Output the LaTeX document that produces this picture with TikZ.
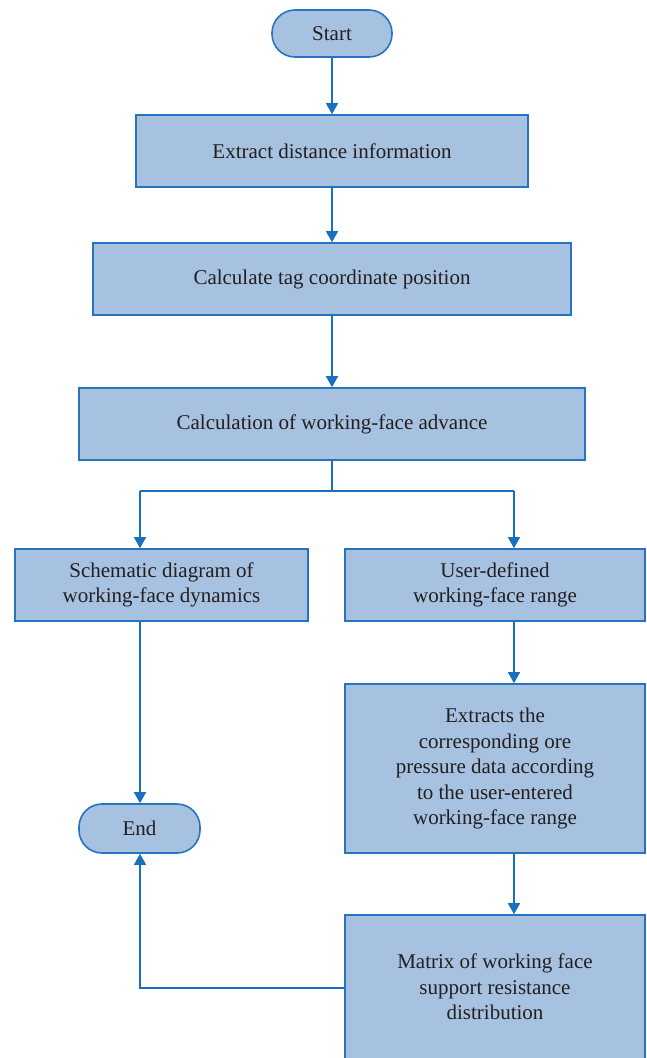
\documentclass[tikz,border=0pt]{standalone}
\usepackage{fontspec}
\setmainfont{Liberation Serif}
\usetikzlibrary{arrows.meta}
\definecolor{boxfill}{RGB}{167,193,224}
\definecolor{boxline}{RGB}{38,116,192}
\definecolor{flow}{RGB}{24,112,190}
\definecolor{txt}{RGB}{35,31,32}
\begin{document}
\begin{tikzpicture}[x=1pt,y=-1pt,
  every node/.style={font=\fontsize{21}{25.5}\selectfont, text=txt},
  procbox/.style={draw=boxline, line width=1.6pt, fill=boxfill, rectangle,
    inner sep=0pt, align=center},
  termbox/.style={procbox, rounded corners=23pt},
  flowline/.style={draw=flow, line width=1.5pt},
  arrow/.style={flowline, -{Triangle[width=12pt,length=11pt]}}]
\useasboundingbox (0,0) rectangle (646,1058);

\node[termbox, minimum width=120pt, minimum height=47pt] (start) at (332,33.5) {Start};
\node[procbox, minimum width=392pt, minimum height=72pt] (b1) at (332,151) {Extract distance information};
\node[procbox, minimum width=478pt, minimum height=72pt] (b2) at (332,279) {Calculate tag coordinate position};
\node[procbox, minimum width=506pt, minimum height=72pt] (b3) at (332,424) {Calculation of working-face advance};
\node[procbox, minimum width=293pt, minimum height=72pt] (left) at (161.5,585) {Schematic diagram of\\working-face dynamics};
\node[procbox, minimum width=300pt, minimum height=72pt] (right) at (495,585) {User-defined\\working-face range};
\node[procbox, minimum width=300pt, minimum height=169pt] (ext) at (495,768.5) {Extracts the\\corresponding ore\\pressure data according\\to the user-entered\\working-face range};
\node[procbox, minimum width=300pt, minimum height=144pt] (mat) at (495,987) {Matrix of working face\\support resistance\\distribution};
\node[termbox, minimum width=121pt, minimum height=49pt] (end) at (139.5,828.5) {End};

\coordinate (split) at (332,491);
\coordinate (lsplit) at (140,491);
\coordinate (rsplit) at (514,491);
\coordinate (ret) at (140,988);

\draw[arrow] (start.south) -- (b1.north);
\draw[arrow] (b1.south) -- (b2.north);
\draw[arrow] (b2.south) -- (b3.north);
\draw[flowline] (b3.south) -- (split);
\draw[flowline] (lsplit) -- (rsplit);
\draw[arrow] (lsplit) -- (lsplit |- left.north);
\draw[arrow] (rsplit) -- (rsplit |- right.north);
\draw[arrow] (rsplit |- right.south) -- (rsplit |- ext.north);
\draw[arrow] (rsplit |- ext.south) -- (rsplit |- mat.north);
\draw[arrow] (lsplit |- left.south) -- (lsplit |- end.north);
\draw[arrow] (mat.west |- ret) -- (ret) -- (ret |- end.south);
\end{tikzpicture}
\end{document}
